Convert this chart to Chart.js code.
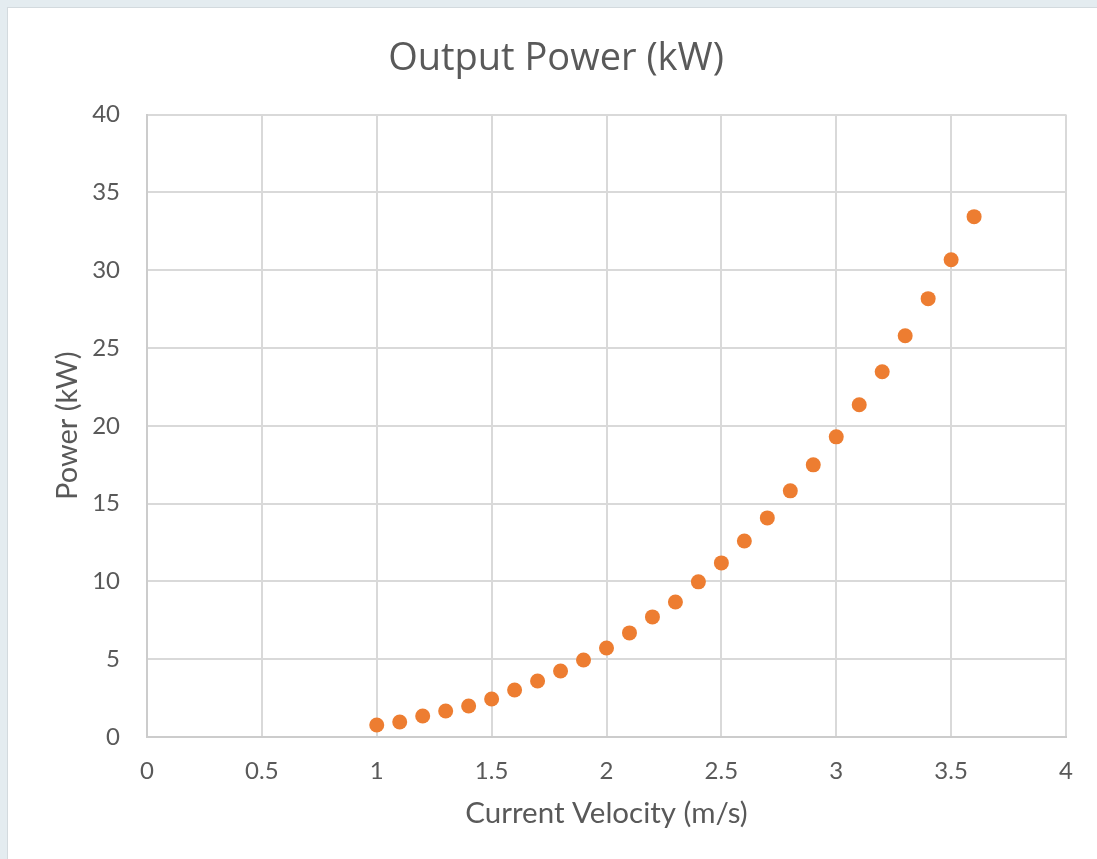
<!DOCTYPE html>
<html>
<head>
<meta charset="utf-8">
<script src="https://cdn.jsdelivr.net/npm/chart.js@4/dist/chart.umd.min.js"></script>
<style>
  html, body { margin: 0; padding: 0; background: #e4ecf0; overflow: hidden; }
  #frame {
    position: absolute; left: 7px; top: 7px; width: 1090px; height: 852px;
    background: #fff; border-left: 1px solid #d3dade; border-top: 1px solid #d3dade;
    box-sizing: border-box;
  }
  #wrap { position: absolute; left: 0; top: 0; width: 1097px; height: 859px; }
</style>
</head>
<body>
<div id="frame"></div>
<div id="wrap"><canvas id="myChart" width="1097" height="859"></canvas></div>
<script>
// velocity (m/s) and output power (kW)
const velocity = [1.0, 1.1, 1.2, 1.3, 1.4, 1.5, 1.6, 1.7, 1.8, 1.9, 2.0, 2.1, 2.2, 2.3,
  2.4, 2.5, 2.6, 2.7, 2.8, 2.9, 3.0, 3.1, 3.2, 3.3, 3.4, 3.5, 3.6];
const power = [0.77, 0.96, 1.35, 1.67, 1.99, 2.44, 3.02, 3.6, 4.24, 4.95, 5.72, 6.69, 7.72, 8.68,
  9.97, 11.19, 12.6, 14.08, 15.82, 17.49, 19.29, 21.35, 23.47, 25.79, 28.17, 30.67, 33.44];

const chartTitle = 'Output Power (kW)';
const xTitle = 'Current Velocity (m/s)';
const yTitle = 'Power (kW)';

const textColor = '#595959';
const titleFont = '"Open Sans", "Noto Sans", sans-serif';
const bodyFont = 'Lato, "Open Sans", sans-serif';

const points = velocity.map((v, i) => ({ x: v, y: power[i] }));

new Chart(document.getElementById('myChart'), {
  type: 'scatter',
  data: {
    datasets: [{
      label: 'Power',
      data: points,
      backgroundColor: '#ed7d31',
      borderWidth: 0,
      pointRadius: 7.5,
      pointHoverRadius: 7.5
    }]
  },
  options: {
    responsive: false,
    animation: false,
    // left padding is bigger so the title centres where the original does
    layout: { padding: { left: 46, top: 7, right: 31, bottom: 0 } },
    plugins: {
      legend: { display: false },
      tooltip: { enabled: false },
      title: {
        display: true,
        text: chartTitle,
        color: textColor,
        font: { family: titleFont, size: 38, weight: 'normal' },
        padding: { top: 29, bottom: 33 }
      }
    },
    scales: {
      x: {
        type: 'linear',
        min: 0,
        max: 4,
        afterFit: (scale) => { scale.height = 122; },
        ticks: {
          stepSize: 0.5,
          color: textColor,
          padding: 20,
          font: { family: bodyFont, size: 24 },
          callback: (v) => String(v)
        },
        grid: { color: '#d9d9d9', lineWidth: 2, drawTicks: false },
        border: { color: '#cccccc', width: 2 },
        title: {
          display: true,
          text: xTitle,
          color: textColor,
          font: { family: bodyFont, size: 29.5 },
          padding: { top: 0, bottom: 28 }
        }
      },
      y: {
        min: 0,
        max: 40,
        afterFit: (scale) => { scale.width = 101; },
        ticks: {
          stepSize: 5,
          color: textColor,
          padding: 27,
          font: { family: bodyFont, size: 24 }
        },
        grid: { color: '#d9d9d9', lineWidth: 2, drawTicks: false },
        border: { color: '#cccccc', width: 2 },
        title: {
          display: true,
          text: yTitle,
          color: textColor,
          font: { family: bodyFont, size: 29 },
          padding: { top: 4, bottom: 0 }
        }
      }
    }
  }
});
</script>
</body>
</html>
